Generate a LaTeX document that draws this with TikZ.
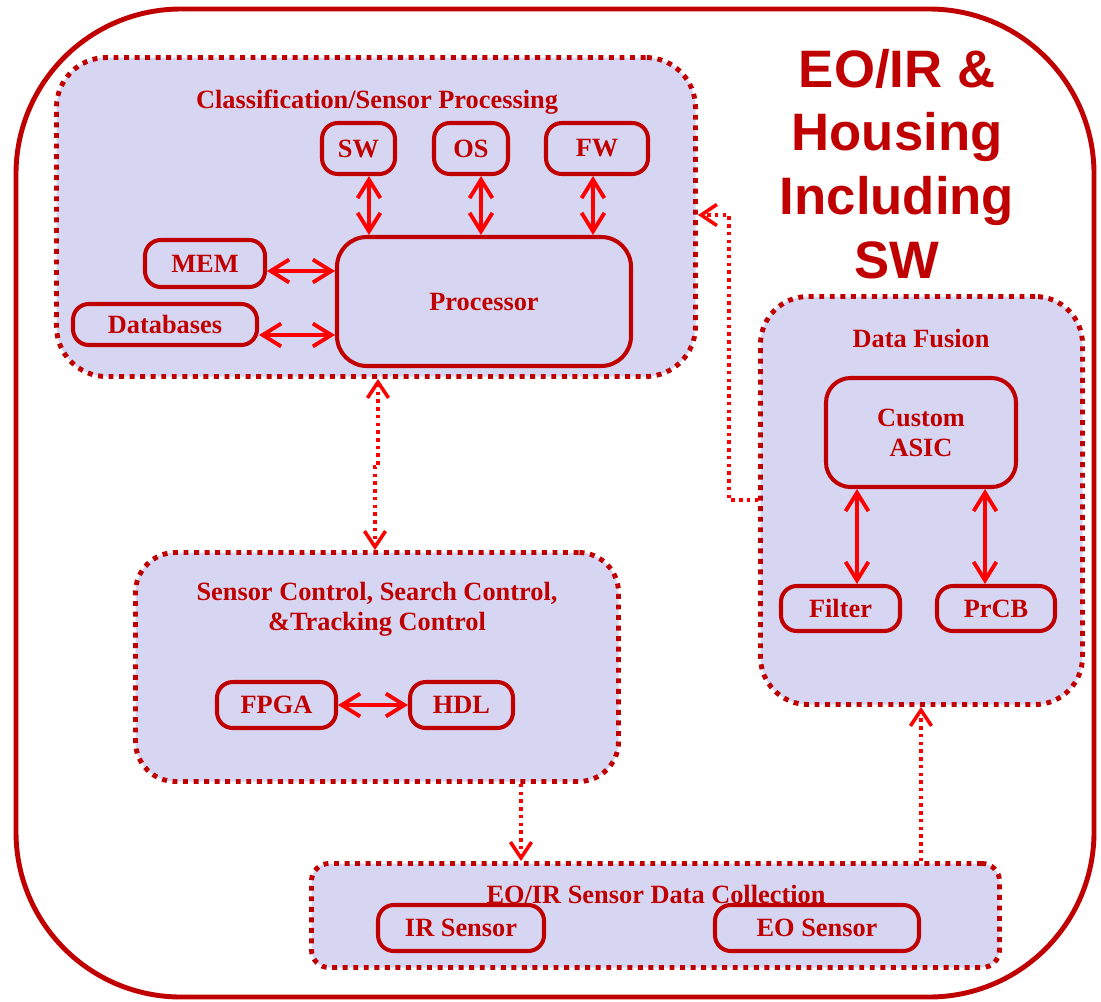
\documentclass[tikz,border=0pt]{standalone}
\usepackage{fontspec}
\setmainfont{Liberation Serif}
\newfontfamily\titlefont{Liberation Sans}
\usetikzlibrary{arrows.meta}
\definecolor{dred}{HTML}{C00000}
\definecolor{bred}{HTML}{FF0000}
\definecolor{lav}{HTML}{D6D6F3}
\tikzset{
  dtip/.tip={Straight Barb[length=9pt,width=12pt,line width=2pt]},
  stip/.tip={Straight Barb[length=10.5pt,width=13pt]}
}
\begin{document}
\begin{tikzpicture}[x=0.02cm,y=-0.02cm,
  bx/.style 2 args={minimum width={(#1-4)*0.02cm},minimum height={(#2-4)*0.02cm}},
  container/.style={draw=dred,fill=lav,line width=2.8pt,dash pattern=on 2.8pt off 3.2pt,inner sep=0pt},
  box/.style={draw=dred,fill=lav,line width=2.3pt,rounded corners=#1,inner sep=0pt,text=dred,
    font=\fontsize{15}{18}\selectfont\bfseries,align=center},
  box/.default=9pt,
  ttl/.style={text=dred,font=\fontsize{15}{18}\selectfont\bfseries,align=center,anchor=base,inner sep=0pt},
  biarrow/.style={bred,line width=2.2pt,{stip}-{stip}},
  dotlink/.style={bred,line width=2pt,dash pattern=on 2pt off 2.4pt}
]
\useasboundingbox (0,0) rectangle (1101,1001);
% outer frame
\draw[dred,line width=2.8pt,rounded corners=3.3cm] (16,9) rectangle (1094,997);
% big title
\node[text=dred,font=\titlefont\fontsize{30}{36.2}\selectfont\bfseries,align=center,anchor=base,inner sep=0pt] (big) at (897,278)
  {EO/IR \&\\Housing\\Including\\SW};
% containers
\node[container,rounded corners=1cm,bx={643}{323}] (cls) at (376,217) {};
\node[container,rounded corners=0.8cm,bx={487}{233}] (sc) at (377,667) {};
\node[container,rounded corners=0.35cm,bx={692}{108}] (dc) at (655.5,915.5) {};
\node[container,rounded corners=0.95cm,bx={326}{412}] (df) at (921.5,500.5) {};
% titles
\node[ttl] (clsT) at (377,108) {Classification/Sensor Processing};
\node[ttl] (scT) at (377,630) {Sensor Control, Search Control,\\[-1.2pt]\&Tracking Control};
\node[ttl] (dcT) at (656,903) {EO/IR Sensor Data Collection};
\node[ttl] (dfT) at (921,347) {Data Fusion};
% inner boxes
\node[box,bx={77}{55}] (sw) at (358.5,148.5) {SW};
\node[box,bx={78}{55}] (os) at (471,148.5) {OS};
\node[box,bx={106}{55}] (fw) at (597,148.5) {FW};
\node[box=17pt,bx={298}{133}] (proc) at (484,301.5) {Processor};
\node[box,bx={124}{51}] (mem) at (205,263.5) {MEM};
\node[box,bx={188}{45}] (db) at (165,324.5) {Databases};
\node[box,bx={123}{50}] (fpga) at (276.5,705) {FPGA};
\node[box,bx={107}{50}] (hdl) at (461.5,705) {HDL};
\node[box,bx={170}{50}] (ir) at (461,928) {IR Sensor};
\node[box,bx={208}{50}] (eo) at (817,928) {EO Sensor};
\node[box=14pt,bx={194}{113}] (asic) at (921,432.5) {Custom\\[-1pt]ASIC};
\node[box,bx={123}{49}] (filter) at (840.5,608.5) {Filter};
\node[box,bx={122}{49}] (prcb) at (996,608.5) {PrCB};
% solid arrows
\draw[biarrow] (369,0 |- sw.south) -- (369,0 |- proc.north);
\draw[biarrow] (481,0 |- os.south) -- (481,0 |- proc.north);
\draw[biarrow] (593,0 |- fw.south) -- (593,0 |- proc.north);
\draw[biarrow] (mem.east |- 0,271) -- (proc.west |- 0,271);
\draw[biarrow] (db.east |- 0,335) -- (proc.west |- 0,335);
\draw[biarrow] (fpga.east) -- (hdl.west);
\draw[biarrow] (857,0 |- asic.south) -- (857,0 |- filter.north);
\draw[biarrow] (985,0 |- asic.south) -- (985,0 |- prcb.north);
% dotted links
\draw[dotlink,{dtip}-{dtip}] (378,0 |- cls.south) -- (378,467) -- (375,467) -- (375,0 |- sc.north);
\draw[dotlink,-{dtip}] (521,0 |- sc.south) -- (521,0 |- dc.north);
\draw[dotlink,-{dtip}] (921,0 |- dc.north) -- (921,0 |- df.south);
\draw[dotlink,-{dtip}] (df.west |- 0,500) -- (729,500) -- (729,215) -- (cls.east |- 0,215);
\end{tikzpicture}
\end{document}
